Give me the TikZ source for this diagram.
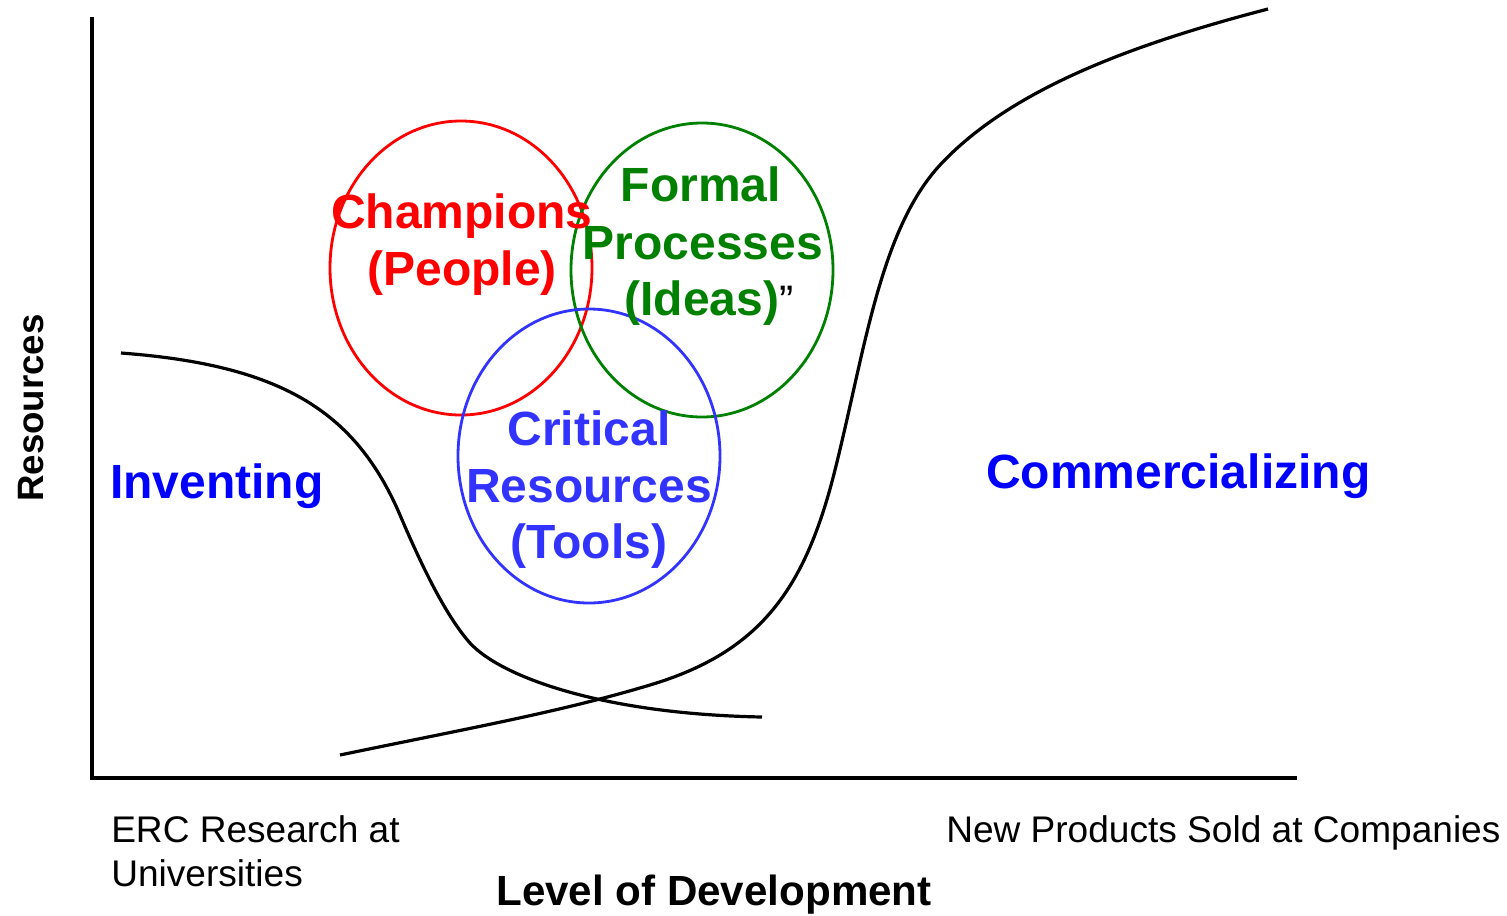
\documentclass[tikz,border=0pt]{standalone}
\usepackage{fontspec}
\setmainfont{Liberation Sans}
\usetikzlibrary{shapes.geometric}
\definecolor{cred}{RGB}{255,0,0}
\definecolor{cgreen}{RGB}{0,128,0}
\definecolor{cblue}{RGB}{51,51,255}
\definecolor{pblue}{RGB}{0,0,255}
\begin{document}
\begin{tikzpicture}[x=0.75pt,y=-0.75pt,
  axisline/.style={line width=2.4pt,black},
  curveline/.style={line width=2.4pt,black},
  oval/.style={ellipse,draw,line width=2.1pt,minimum width=196.5pt,minimum height=220.5pt,inner sep=0pt},
  bigtxt/.style={inner sep=0pt,font=\fontsize{36pt}{43pt}\selectfont\bfseries},
  smalltxt/.style={inner sep=0pt,font=\fontsize{27.8pt}{33pt}\selectfont}]
\useasboundingbox (0,0) rectangle (1507,915);
% axes
\coordinate (ytop) at (92,17);
\coordinate (orig) at (92,778);
\coordinate (xend) at (1297,778);
\draw[axisline] (ytop) -- (orig) -- (xend);
% ellipses
\node[oval,draw=cred] (red) at (461,268) {};
\node[oval,draw=cgreen] (green) at (702,270) {};
\node[oval,draw=cblue] (blue) at (589,456) {};
% declining curve (inventing)
\coordinate (d0) at (121,353);
\coordinate (d1) at (400,515);
\coordinate (d2) at (470,643);
\coordinate (d3) at (762,717);
\draw[curveline] (d0) .. controls (280,365) and (355,410) .. (d1)
  .. controls (420,562) and (445,615) .. (d2)
  .. controls (500,676) and (600,714) .. (d3);
% rising curve (commercializing)
\coordinate (r0) at (340,755);
\coordinate (r1) at (650,685);
\coordinate (r2) at (835,470);
\coordinate (r3) at (940,165);
\coordinate (r4) at (1268,9);
\draw[curveline] (r0) .. controls (470,728) and (560,712) .. (r1)
  .. controls (760,652) and (805,590) .. (r2)
  .. controls (865,350) and (880,230) .. (r3)
  .. controls (1010,90) and (1130,45) .. (r4);
% circle texts
\node[bigtxt,text=cred,anchor=base] (champ) at (462,228) {Champions};
\node[bigtxt,text=cred,anchor=base] (people) at (462,285) {(People)};
\node[bigtxt,text=cgreen,anchor=base] (formal) at (701,201) {Formal};
\node[bigtxt,text=cgreen,anchor=base] (proc) at (703,259) {Processes};
\node[bigtxt,text=cgreen,anchor=base] (ideas) at (702,315) {(Ideas)};
\node[bigtxt,text=black,anchor=base west,font=\fontsize{32pt}{36pt}\selectfont] (quote) at (ideas.base east) {”};
\node[bigtxt,text=cblue,anchor=base] (crit) at (589,445) {Critical};
\node[bigtxt,text=cblue,anchor=base] (res) at (589,502) {Resources};
\node[bigtxt,text=cblue,anchor=base] (tools) at (589,558) {(Tools)};
% phase labels
\node[bigtxt,text=pblue,anchor=base west] (invent) at (110,498) {Inventing};
\node[bigtxt,text=pblue,anchor=base west] (comm) at (986,488) {Commercializing};
% axis labels
\node[inner sep=0pt,font=\fontsize{27.5pt}{33pt}\selectfont\bfseries,rotate=90,anchor=base] (ylab) at (43,408) {Resources};
\node[inner sep=0pt,font=\fontsize{31.6pt}{37pt}\selectfont\bfseries,anchor=base] (xlab) at (714,905) {Level of Development};
\node[smalltxt,anchor=base west] (erc1) at (111,842) {ERC Research at};
\node[smalltxt,anchor=base west] (erc2) at (111,886) {Universities};
\node[smalltxt,anchor=base west] (newp) at (946,842) {New Products Sold at Companies};
\end{tikzpicture}
\end{document}
